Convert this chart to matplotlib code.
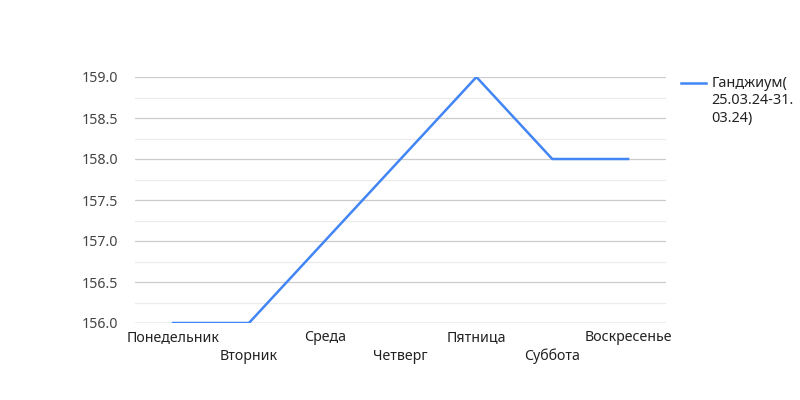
import matplotlib
matplotlib.use('Agg')
import matplotlib.pyplot as plt
from matplotlib.ticker import MultipleLocator

plt.rcParams['font.family'] = ['Noto Sans', 'DejaVu Sans']

days = ['Понедельник', 'Вторник', 'Среда', 'Четверг', 'Пятница', 'Суббота', 'Воскресенье']
values = [156, 156, 157, 158, 159, 158, 158]
series_name = 'Ганджиум(\n25.03.24-31.\n03.24)'

fig = plt.figure(figsize=(8, 4), dpi=100)
ax = fig.add_axes([0.169, 0.1925, 0.6635, 0.615])

x = list(range(len(days)))
ax.plot(x, values, color='#4285F4', linewidth=1.8, zorder=3)

ax.set_xlim(-0.5, len(days) - 0.5)
ax.set_ylim(156, 159)
ax.yaxis.set_major_locator(MultipleLocator(0.5))
ax.yaxis.set_minor_locator(MultipleLocator(0.25))
ax.yaxis.set_major_formatter(matplotlib.ticker.FormatStrFormatter('%.1f'))
ax.grid(axis='y', which='major', color='#cccccc', linewidth=0.9)
ax.grid(axis='y', which='minor', color='#ececec', linewidth=0.9)
ax.set_axisbelow(True)

for s in ax.spines.values():
    s.set_visible(False)
ax.axhline(156, color='#aaaaaa', linewidth=0.9, zorder=2)

ax.tick_params(axis='both', which='both', length=0)
ax.tick_params(axis='y', pad=12, labelsize=10.2, labelcolor='#444444')
ax.set_xticks(x)
ax.set_xticklabels([])
for i, d in enumerate(days):
    off = -0.06 if i % 2 == 0 else -0.135
    ax.text(i, off, d, transform=ax.get_xaxis_transform(), ha='center', va='center',
            fontsize=10.2, color='#222222')

fig.lines.append(plt.Line2D([0.851, 0.883], [0.7925, 0.7925], transform=fig.transFigure,
                            color='#4285F4', linewidth=1.8))
fig.text(0.889, 0.81, series_name, fontsize=10.4, color='#222222', va='top', ha='left',
         linespacing=1.22)

fig.savefig('out.png', dpi=100)
